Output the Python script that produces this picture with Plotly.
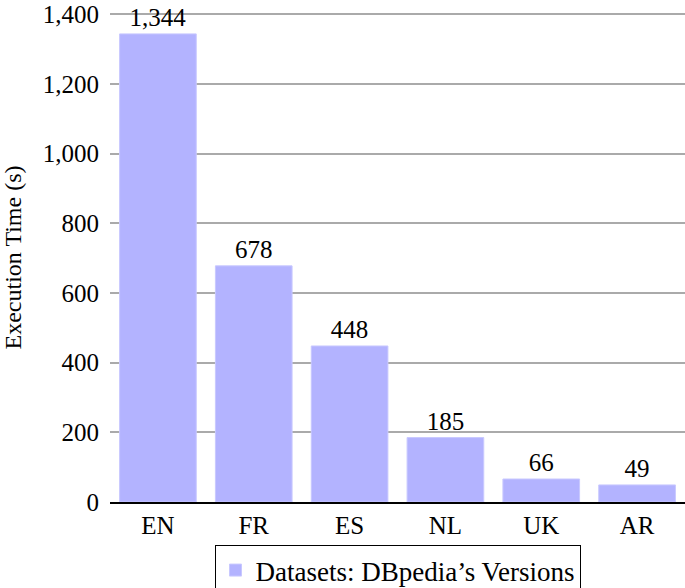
import plotly.graph_objects as go

BAR = "#b3b3ff"
GRID = "#aaaaaa"
FONT = "Liberation Serif, DejaVu Serif, serif"

versions = ["EN", "FR", "ES", "NL", "UK", "AR"]
exec_time = [1344, 678, 448, 185, 66, 49]
y_ticks = [0, 200, 400, 600, 800, 1000, 1200, 1400]

fig = go.Figure()
fig.add_bar(
    x=versions,
    y=exec_time,
    name="Datasets: DBpedia’s Versions",
    marker=dict(color=BAR, line=dict(color="#c8c8ff", width=1)),
    texttemplate="%{y:,d}",
    textposition="outside",
    textfont=dict(size=25, color="#000000"),
    cliponaxis=False,
    width=0.8,
)

fig.update_layout(
    width=685,
    height=588,
    paper_bgcolor="#ffffff",
    plot_bgcolor="#ffffff",
    font=dict(family=FONT, size=25, color="#000000"),
    margin=dict(l=110, r=0, t=13, b=86, autoexpand=False),
    showlegend=True,
    legend=dict(
        orientation="h",
        x=0.5,
        xanchor="center",
        y=-0.088,
        yanchor="top",
        bordercolor="#000000",
        borderwidth=1,
        font=dict(size=27),
        itemwidth=30,
    ),
)
fig.update_xaxes(
    range=[-0.5, 5.5],
    showline=True,
    linecolor="#000000",
    linewidth=1.5,
    showgrid=False,
    ticks="",
    tickfont=dict(size=25),
)
# a little headroom above 1,400 so plotly keeps that gridline and label
fig.update_yaxes(
    range=[0, 1404],
    tickvals=y_ticks,
    tickformat=",d",
    tickfont=dict(size=25),
    ticklabelstandoff=10,
    ticklabeloverflow="allow",
    showgrid=True,
    gridcolor=GRID,
    gridwidth=1.5,
    zeroline=False,
    showline=False,
    ticks="",
    title=dict(text="Execution Time (s)", font=dict(size=24), standoff=30),
)

# drop the browser's default body margin so the figure sits at 0,0
fig.write_html(
    "out.html",
    config={"displayModeBar": False},
    post_script="document.body.style.margin='0';",
)
